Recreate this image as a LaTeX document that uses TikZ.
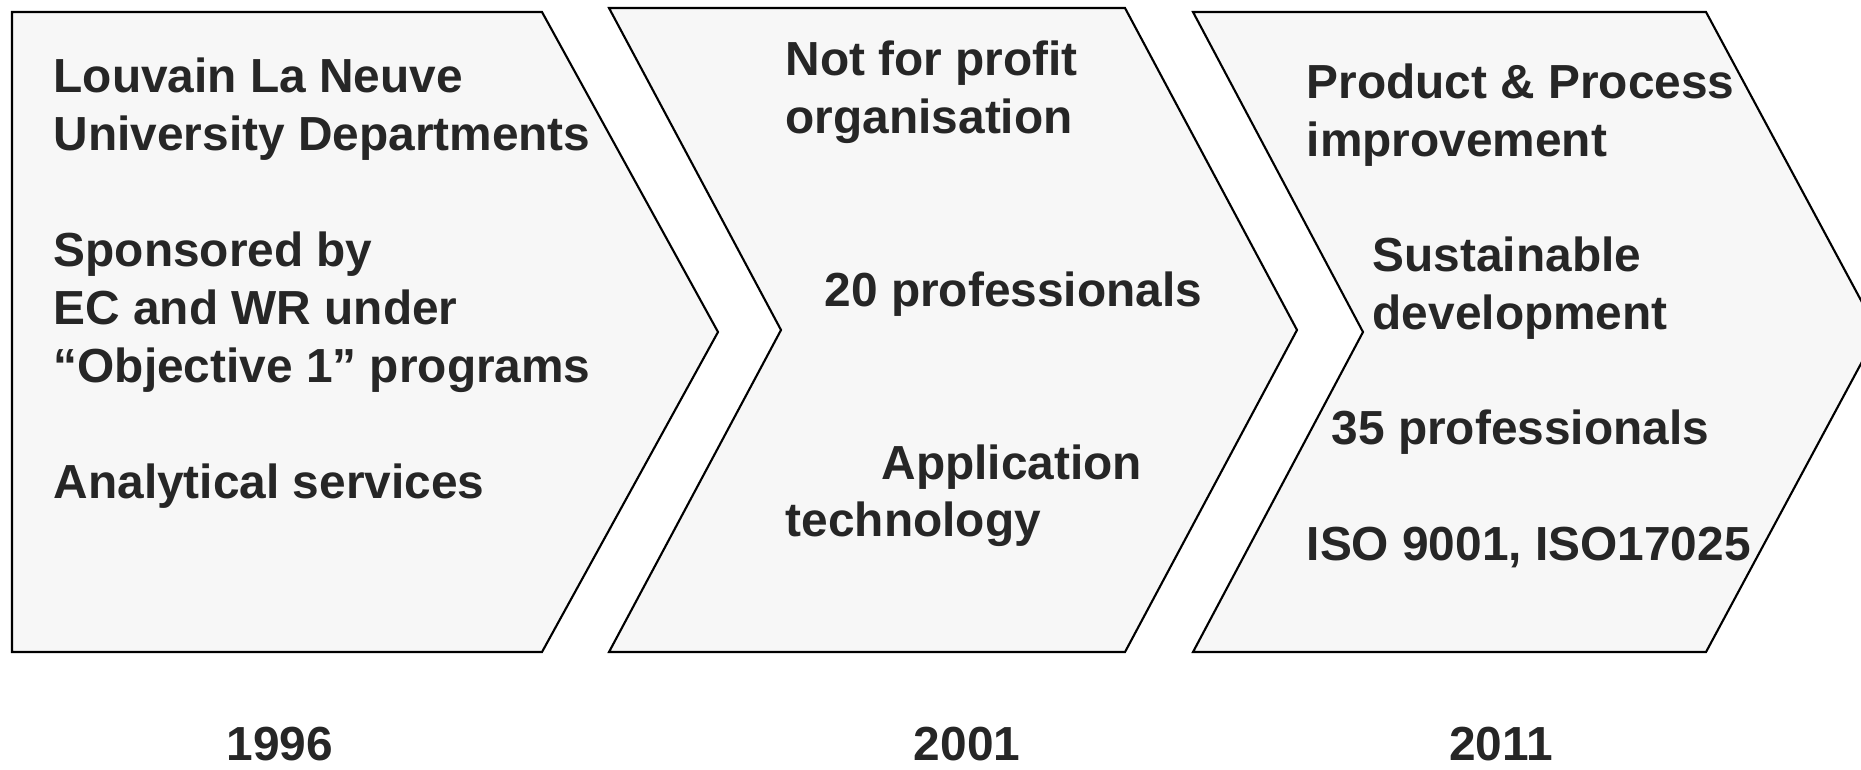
\documentclass[tikz,border=0pt]{standalone}
\usepackage{fontspec}
\setmainfont{Liberation Sans}
\definecolor{panelgray}{HTML}{F7F7F7}
\definecolor{inkgray}{HTML}{262626}

\tikzstyle{chevron}=[draw,fill=panelgray,line width=0.6pt,line join=miter]
\tikzstyle{entry} = [anchor=base west,inner sep=0pt,text=inkgray,font=\fontsize{13.6}{16.4}\selectfont\bfseries]
\tikzstyle{year} = [entry,anchor=base]
\newcommand{\pxunit}{0.01cm}

\begin{document}
\begin{tikzpicture}[x=\pxunit, y=-\pxunit]
    \useasboundingbox (0,0) rectangle (1861,769);
    % First we draw the three chevrons
    \path[chevron] (12,12) -- (542,12) -- (718,332) -- (542,652) -- (12,652) -- cycle;
    \path[chevron] (609,8) -- (1125,8) -- (1297,330) -- (1125,652) -- (609,652) -- (781,330) -- cycle;
    \path[chevron] (1193,12) -- (1706,12) -- (1878,332) -- (1706,652) -- (1193,652) -- (1363,332) -- cycle;
    % Then the text of each stage
    \foreach \pos/\name/\txt in {{(53,92)/louvain/Louvain La Neuve}, {(53,150)/univ/University Departments},
        {(53,266)/sponsor/Sponsored by}, {(53,324)/ecwr/EC and WR under},
        {(53,382)/objective/“Objective 1” programs}, {(53,498)/analytic/Analytical services}}
        \node[entry] (\name) at \pos {\txt};
    \foreach \pos/\name/\txt in {{(785,75)/notprofit/Not for profit}, {(785,133)/organis/organisation},
        {(824,306)/prof20/20 professionals}, {(881,479)/applic/Application}, {(785,536)/techno/technology}}
        \node[entry] (\name) at \pos {\txt};
    \foreach \pos/\name/\txt in {{(1306,98)/product/Product \& Process}, {(1306,156)/improve/improvement},
        {(1372,271)/sustain/Sustainable}, {(1372,329)/develop/development},
        {(1331,444)/prof35/35 professionals}, {(1306,560)/iso/ISO 9001, ISO17025}}
        \node[entry] (\name) at \pos {\txt};
    % Years under the chevrons
    \foreach \pos/\name/\txt in {{(280,760)/y1996/1996}, {(967,760)/y2001/2001}, {(1501,760)/y2011/2011}}
        \node[year] (\name) at \pos {\txt};
\end{tikzpicture}
\end{document}
